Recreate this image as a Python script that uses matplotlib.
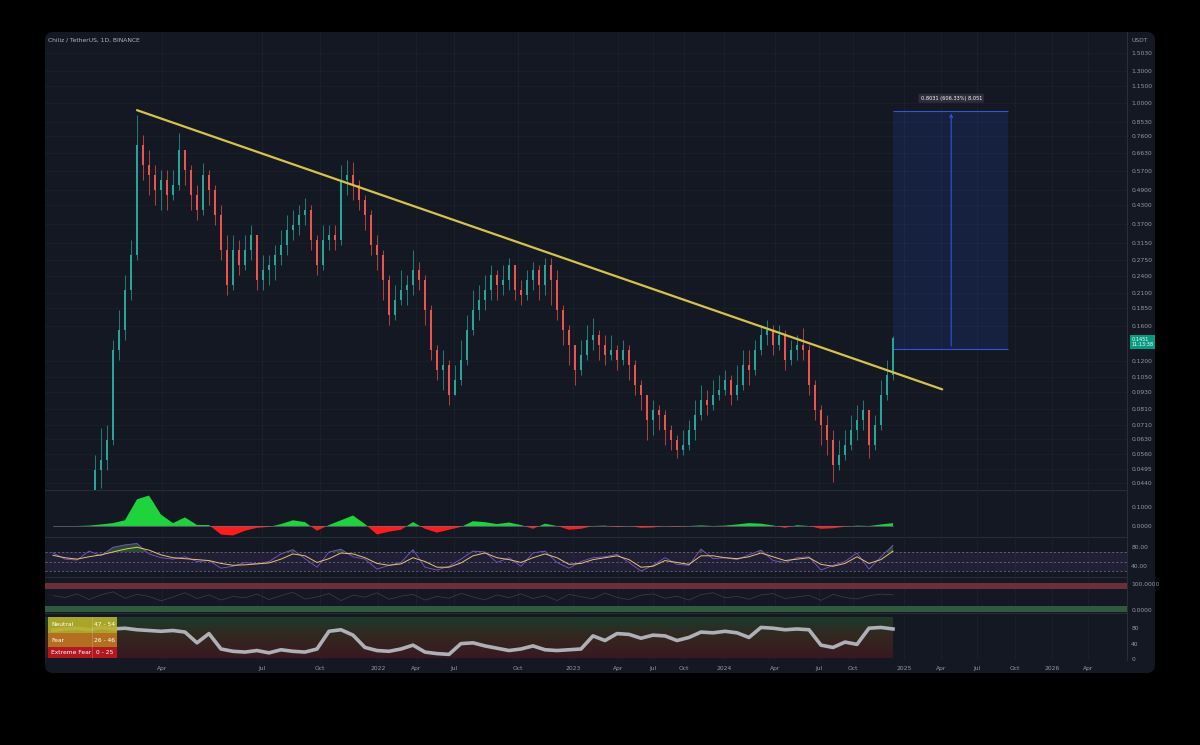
import numpy as np
import matplotlib.pyplot as plt
from matplotlib.patches import FancyBboxPatch, Rectangle
from matplotlib.colors import LinearSegmentedColormap
from matplotlib.ticker import NullLocator

# CHZ/USDT candles at a coarse (weekly-ish) step
first_open = 0.020
close = [0.021, 0.024, 0.027, 0.025, 0.029, 0.032, 0.035, 0.038,
         0.0490, 0.0532, 0.0627, 0.1313, 0.155, 0.215, 0.286, 0.706, 0.599, 0.552,
         0.488, 0.530, 0.468, 0.508, 0.678, 0.575, 0.468, 0.414, 0.552, 0.488,
         0.398, 0.298, 0.224, 0.298, 0.264, 0.298, 0.337, 0.233, 0.253, 0.264,
         0.286, 0.311, 0.351, 0.366, 0.398, 0.414, 0.324, 0.264, 0.324, 0.337,
         0.324, 0.530, 0.552, 0.508, 0.450, 0.398, 0.311, 0.286, 0.233, 0.175,
         0.198, 0.215, 0.224, 0.253, 0.233, 0.182, 0.1313, 0.1114, 0.116, 0.0907,
         0.1026, 0.1209, 0.155, 0.182, 0.198, 0.215, 0.243, 0.224, 0.233, 0.264,
         0.215, 0.206, 0.233, 0.253, 0.224, 0.264, 0.233, 0.182, 0.155, 0.1368,
         0.1114, 0.126, 0.1425, 0.1485, 0.1368, 0.126, 0.1313, 0.1209, 0.1313, 0.116,
         0.0985, 0.0907, 0.0738, 0.0801, 0.0769, 0.0680, 0.0627, 0.0578, 0.0601, 0.0680,
         0.0769, 0.0870, 0.0835, 0.0907, 0.0945, 0.1026, 0.0907, 0.0985, 0.116, 0.1114,
         0.1313, 0.1485, 0.155, 0.1368, 0.1485, 0.1209, 0.1313, 0.1368, 0.1313, 0.0985,
         0.0801, 0.0709, 0.0627, 0.0511, 0.0554, 0.0601, 0.0680, 0.0738, 0.0801, 0.0601,
         0.0709, 0.0907, 0.1069, 0.1451]
high = [0.023, 0.026, 0.029, 0.028, 0.031, 0.034, 0.037, 0.040,
        0.0554, 0.0692, 0.0709, 0.1425, 0.182, 0.243, 0.324, 0.904, 0.767, 0.678,
        0.599, 0.575, 0.575, 0.575, 0.779, 0.651, 0.599, 0.508, 0.609, 0.575,
        0.508, 0.432, 0.337, 0.337, 0.324, 0.337, 0.366, 0.324, 0.286, 0.286,
        0.311, 0.351, 0.398, 0.414, 0.432, 0.457, 0.432, 0.337, 0.366, 0.366,
        0.366, 0.599, 0.625, 0.614, 0.530, 0.468, 0.414, 0.337, 0.298, 0.243,
        0.224, 0.253, 0.243, 0.298, 0.270, 0.243, 0.190, 0.1368, 0.1313, 0.1209,
        0.116, 0.1425, 0.175, 0.215, 0.224, 0.243, 0.264, 0.253, 0.264, 0.279,
        0.264, 0.233, 0.253, 0.270, 0.264, 0.279, 0.279, 0.253, 0.190, 0.161,
        0.1368, 0.1425, 0.161, 0.171, 0.155, 0.1485, 0.1485, 0.1368, 0.1425, 0.1368,
        0.1209, 0.1026, 0.0907, 0.0870, 0.0835, 0.0801, 0.0709, 0.0653, 0.0680, 0.0738,
        0.0870, 0.0985, 0.0945, 0.1026, 0.1069, 0.1114, 0.1069, 0.116, 0.1313, 0.1313,
        0.1425, 0.161, 0.168, 0.161, 0.161, 0.155, 0.1425, 0.1485, 0.157, 0.1368,
        0.1026, 0.0835, 0.0769, 0.0680, 0.0627, 0.0680, 0.0769, 0.0835, 0.0870, 0.0801,
        0.0769, 0.1026, 0.1209, 0.1470]
low = [0.019, 0.021, 0.024, 0.023, 0.025, 0.028, 0.031, 0.034,
       0.0416, 0.0424, 0.0490, 0.0601, 0.1209, 0.1425, 0.198, 0.275, 0.530, 0.468,
       0.432, 0.414, 0.414, 0.450, 0.488, 0.508, 0.414, 0.381, 0.398, 0.432,
       0.366, 0.275, 0.206, 0.215, 0.243, 0.253, 0.275, 0.215, 0.215, 0.224,
       0.233, 0.264, 0.286, 0.324, 0.337, 0.366, 0.298, 0.243, 0.253, 0.298,
       0.298, 0.311, 0.468, 0.450, 0.414, 0.351, 0.286, 0.253, 0.198, 0.161,
       0.168, 0.190, 0.190, 0.206, 0.215, 0.161, 0.1209, 0.1026, 0.0945, 0.0835,
       0.0907, 0.0985, 0.116, 0.1485, 0.168, 0.182, 0.198, 0.198, 0.206, 0.215,
       0.198, 0.190, 0.198, 0.215, 0.198, 0.206, 0.190, 0.168, 0.1368, 0.116,
       0.0985, 0.1069, 0.1209, 0.1313, 0.1209, 0.116, 0.1209, 0.1114, 0.116, 0.1026,
       0.0907, 0.0801, 0.0627, 0.0653, 0.0680, 0.0601, 0.0578, 0.0541, 0.0554, 0.0578,
       0.0627, 0.0738, 0.0769, 0.0801, 0.0870, 0.0907, 0.0835, 0.0870, 0.0945, 0.0985,
       0.1069, 0.126, 0.1368, 0.126, 0.1313, 0.1114, 0.116, 0.1209, 0.1209, 0.0907,
       0.0738, 0.0601, 0.0554, 0.0444, 0.0490, 0.0532, 0.0578, 0.0627, 0.0680, 0.0541,
       0.0578, 0.0680, 0.0870, 0.1026]

# oscillators, one value every two candles
hist = [0.0, 0.0, 0.0, 0.002, 0.008, 0.015, 0.03, 0.14, 0.16, 0.06,
        0.015, 0.045, 0.005, 0.005, -0.045, -0.05, -0.025, -0.01, -0.005, 0.01,
        0.03, 0.02, -0.025, 0.005, 0.03, 0.055, 0.01, -0.045, -0.03, -0.02,
        0.02, -0.015, -0.035, -0.02, -0.005, 0.025, 0.02, 0.01, 0.018, 0.005,
        -0.015, 0.012, 0.0, -0.02, -0.015, 0.0, 0.002, -0.006, 0.0, -0.01,
        -0.008, 0.0, -0.005, 0.0, 0.003, 0.0, 0.002, 0.008, 0.015, 0.012,
        0.003, -0.01, 0.004, 0.0, -0.015, -0.012, -0.004, 0.002, 0.0, 0.008, 0.015]
rsi = [68, 55, 53, 72, 62, 80, 85, 88, 66, 58,
       55, 60, 50, 52, 36, 40, 48, 45, 50, 66,
       75, 56, 38, 70, 76, 60, 55, 34, 42, 48,
       75, 38, 32, 40, 55, 72, 70, 48, 58, 40,
       68, 72, 48, 36, 50, 58, 60, 65, 48, 30,
       42, 58, 44, 42, 76, 56, 58, 54, 64, 74,
       52, 48, 58, 60, 32, 42, 50, 68, 34, 60, 84]
rsi_ma = [63, 58, 55, 60, 64, 70, 76, 80, 74, 64,
          58, 56, 54, 52, 46, 42, 43, 45, 47, 55,
          66, 62, 48, 56, 68, 66, 58, 46, 42, 45,
          58, 50, 38, 38, 47, 62, 68, 58, 54, 48,
          58, 66, 58, 44, 46, 54, 58, 62, 54, 38,
          40, 52, 48, 44, 62, 62, 58, 56, 60, 68,
          60, 52, 55, 58, 44, 40, 46, 60, 46, 54, 72]
vol_line = [55, 48, 62, 40, 58, 70, 45, 60, 52, 35,
            50, 66, 44, 58, 38, 52, 47, 61, 40, 55,
            68, 42, 50, 63, 36, 57, 49, 66, 41, 53,
            60, 38, 52, 45, 64, 50, 39, 58, 47, 62,
            44, 55, 36, 60, 51, 43, 65, 48, 40, 57,
            62, 45, 53, 38, 59, 66, 47, 52, 41, 58,
            63, 44, 50, 56, 37, 60, 48, 42, 55, 61, 58]
fear_greed = [75, 78, 80, 76, 82, 78, 80, 76, 74, 72,
              74, 70, 42, 66, 26, 20, 18, 22, 16, 24,
              20, 18, 26, 72, 76, 62, 30, 22, 20, 26,
              36, 18, 14, 12, 40, 42, 34, 28, 22, 26,
              34, 24, 22, 24, 26, 60, 48, 66, 64, 54,
              62, 60, 48, 56, 70, 68, 72, 68, 56, 82,
              80, 76, 78, 76, 36, 30, 44, 38, 80, 82, 78]

price_ticks = [1.5030, 1.3000, 1.1500, 1.0000, 0.8530, 0.7600, 0.6630, 0.5700,
               0.4900, 0.4300, 0.3700, 0.3150, 0.2750, 0.2400, 0.2100, 0.1850,
               0.1600, 0.1200, 0.1050, 0.0930, 0.0810, 0.0710, 0.0630, 0.0560,
               0.0495, 0.0440]
time_labels = ['Apr', 'Jul', 'Oct', '2022', 'Apr', 'Jul', 'Oct', '2023', 'Apr', 'Jul',
               'Oct', '2024', 'Apr', 'Jul', 'Oct', '2025', 'Apr', 'Jul', 'Oct', '2026', 'Apr']
time_pos = [19.2, 35.8, 45.5, 55.2, 61.5, 67.8, 78.5, 87.7, 95.2, 101, 106.2, 112.8,
            121.3, 128.7, 134.3, 142.8, 149, 155, 161.3, 167.5, 173.5]

trend_x = [15, 149.2]
trend_y = [0.94, 0.095]
target_low, target_high = 0.1325, 0.9356
target_text = '0.8031 (606.33%) 8,051'

BG = '#141823'
GRID = '#1d212c'
SEP = '#2a2e39'
TXT = '#9598a1'
FS = 4.3

close = np.array(close)
high = np.array(high)
low = np.array(low)
opn = np.concatenate([[first_open], close[:-1]])
x = np.arange(len(close))
xo = np.arange(len(hist)) * 2 + 1
XL = (-0.33, 180)

fig = plt.figure(figsize=(12, 7.45), dpi=100, facecolor='black')
bg = FancyBboxPatch((0.45, 0.72), 11.1, 6.41, boxstyle='round,pad=0,rounding_size=0.08',
                    transform=fig.dpi_scale_trans, facecolor=BG, edgecolor='none', zorder=-10)
fig.patches.append(bg)


def px_axes(x0, y0, x1, y1):
    a = fig.add_axes([x0 / 1200, 1 - y1 / 745, (x1 - x0) / 1200, (y1 - y0) / 745])
    a.set_facecolor('none')
    a.set_xlim(*XL)
    for s in ['top', 'left']:
        a.spines[s].set_visible(False)
    a.spines['right'].set_color(SEP)
    a.spines['bottom'].set_color(SEP)
    a.spines['right'].set_linewidth(0.7)
    a.spines['bottom'].set_linewidth(0.7)
    a.yaxis.tick_right()
    a.tick_params(axis='y', length=0, pad=3, labelsize=FS, labelcolor=TXT)
    a.tick_params(axis='x', length=0, labelbottom=False)
    for t in time_pos:
        a.axvline(t, color=GRID, lw=0.6, zorder=0)
    return a


# main price panel
ax = px_axes(45, 32, 1127, 490)
ax.set_yscale('log')
ax.set_ylim(0.04157, 1.786)
ax.set_yticks(price_ticks)
ax.set_yticklabels([f'{v:.4f}' for v in price_ticks])
ax.yaxis.set_minor_locator(NullLocator())
for v in price_ticks:
    ax.axhline(v, color=GRID, lw=0.5, zorder=0)
up = close >= opn
cols = np.where(up, '#26a69a', '#ef5350')
hi = np.maximum(high, np.maximum(opn, close))
lo = np.minimum(low, np.minimum(opn, close))
ax.vlines(x, lo, hi, colors=cols, lw=0.5, zorder=2)
ax.bar(x, np.abs(close - opn), bottom=np.minimum(opn, close), width=0.45, color=cols, zorder=3)
ax.plot(trend_x, trend_y, color='#d6c24c', lw=1.6, zorder=4, solid_capstyle='round')

ax.add_patch(Rectangle((141, target_low), 19.2, target_high - target_low, facecolor='#2962ff',
                       alpha=0.13, edgecolor='none', zorder=1))
ax.hlines([target_low, target_high], 141, 160.2, color='#2f56d6', lw=0.8, zorder=2)
ax.annotate('', xy=(150.7, target_high), xytext=(150.7, target_low),
            arrowprops=dict(arrowstyle='->', color='#2f56d6', lw=0.8, mutation_scale=5), zorder=2)
ax.annotate(target_text, xy=(150.7, target_high), xytext=(0, 9), textcoords='offset points',
            ha='center', va='center', fontsize=3.6, color='white',
            bbox=dict(boxstyle='round,pad=0.4,rounding_size=0.2', facecolor='#2a2e39', edgecolor='none'))
ax.annotate(f'{close[-1]:.4f}\n11:13:38', xy=(1.004, close[-1]), xycoords=ax.get_yaxis_transform(),
            xytext=(0, -3), textcoords='offset points',
            fontsize=3.6, color='white', ha='left', va='center', linespacing=1.1,
            bbox=dict(boxstyle='square,pad=0.35', facecolor='#089981', edgecolor='none'), zorder=6)

# histogram panel
ah = px_axes(45, 490, 1127, 537)
ah.set_ylim(-0.058, 0.189)
ah.set_yticks([0.1, 0.0])
ah.set_yticklabels(['0.1000', '0.0000'])
hv = np.array(hist)
ah.fill_between(xo, 0, hv, where=hv >= 0, interpolate=True, color='#1ed33c', lw=0)
ah.fill_between(xo, 0, hv, where=hv <= 0, interpolate=True, color='#ff1c1c', lw=0)
ah.plot([xo[0], xo[-1]], [0, 0], color='#6d707a', lw=0.5)

# rsi panel
ar = px_axes(45, 537, 1127, 577)
ar.set_ylim(17.4, 101.6)
ar.set_yticks([80, 40])
ar.set_yticklabels(['80.00', '40.00'])
ar.axhspan(30, 70, color='#7e57c2', alpha=0.12, lw=0)
for lv in [70, 50, 30]:
    ar.axhline(lv, color='#787b86', lw=0.5, ls=(0, (3, 3)))
rv = np.array(rsi)
ar.fill_between(xo, 70, rv, where=rv > 70, interpolate=True, color='#4caf50', alpha=0.35, lw=0)
ar.fill_between(xo, 30, rv, where=rv < 30, interpolate=True, color='#f44336', alpha=0.35, lw=0)
ar.plot(xo, rv, color='#7e57c2', lw=0.6)
ar.plot(xo, rsi_ma, color='#e8c46e', lw=0.7)

# band oscillator panel
ab = px_axes(45, 577, 1127, 613)
ab.set_ylim(-12, 127)
ab.set_yticks([100, 0])
ab.set_yticklabels(['100.0000', '0.0000'])
ab.axhspan(81, 104, color='#6b2f38', lw=0)
ab.axhspan(-8, 15, color='#2f5a3b', lw=0)
ab.plot(xo, vol_line, color='#3c404b', lw=0.5)

# fear & greed panel
af = px_axes(45, 613, 1127, 660)
af.set_ylim(-2.6, 119.5)
af.set_yticks([80, 40, 0])
af.set_yticklabels(['80', '40', '0'])
grad = LinearSegmentedColormap.from_list('fg', ['#3a1822', '#34261f', '#1d3a2b'])
af.imshow(np.linspace(0, 1, 64).reshape(-1, 1), cmap=grad, aspect='auto', origin='lower',
          extent=[XL[0], xo[-1], 3, 109], zorder=0)
af.set_xlim(*XL)
af.set_ylim(-2.6, 119.5)
af.plot(xo, fear_greed, color='#aeb0b7', lw=2.6, solid_joinstyle='round', zorder=3)
af.set_xticks(time_pos)
af.set_xticklabels(time_labels)
af.tick_params(axis='x', labelbottom=True, labelsize=FS, labelcolor=TXT, pad=4)
af.spines['bottom'].set_visible(False)

# fear & greed legend table
rows = [('Neutral', '47 - 54', '#b8b22a', 617, 633),
        ('Fear', '26 - 46', '#c27820', 633, 647),
        ('Extreme Fear', '0 - 25', '#bf1820', 647, 658)]
for name, rng, col, y0, y1 in rows:
    fig.patches.append(Rectangle((48 / 1200, 1 - y1 / 745), 69 / 1200, (y1 - y0) / 745,
                                 transform=fig.transFigure, facecolor=col, alpha=0.9,
                                 edgecolor='none', zorder=5))
    fig.text(51 / 1200, 1 - (y0 + y1) / 2 / 745, name, fontsize=FS, color='white', va='center', zorder=6)
    fig.text(105 / 1200, 1 - (y0 + y1) / 2 / 745, rng, fontsize=FS, color='white', va='center',
             ha='center', zorder=6)
fig.add_artist(plt.Line2D([92 / 1200, 92 / 1200], [1 - 658 / 745, 1 - 617 / 745], color='#ffffff',
                          alpha=0.3, lw=0.4, zorder=6))

fig.text(48 / 1200, 1 - 40 / 745, 'Chiliz / TetherUS, 1D, BINANCE', fontsize=FS, color='#b2b5be', va='center')
fig.text(1132 / 1200, 1 - 40 / 745, 'USDT', fontsize=FS, color=TXT, va='center')

fig.savefig('out.png', dpi=100, facecolor='black')
